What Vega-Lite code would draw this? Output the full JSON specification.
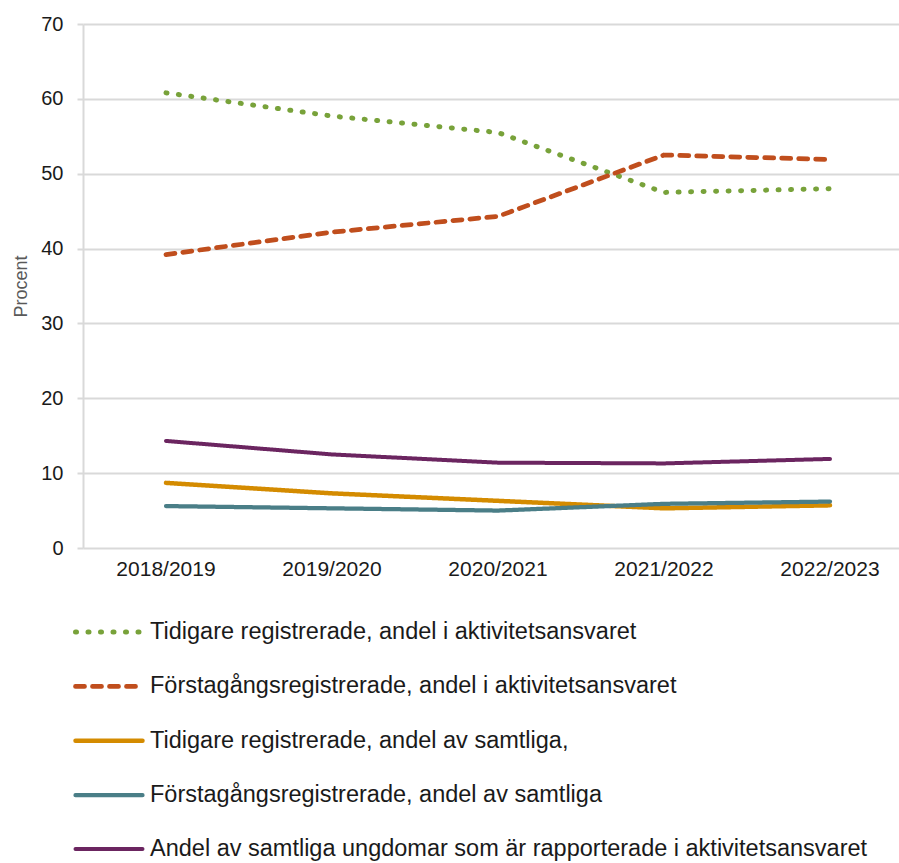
{
  "$schema": "https://vega.github.io/schema/vega-lite/v6.json",
  "autosize": {"type": "none"},
  "width": 830,
  "height": 524,
  "padding": {"left": 83, "top": 24, "right": 0, "bottom": 315},
  "background": "white",
  "config": {
    "font": "Liberation Sans",
    "view": {"stroke": null}
  },
  "data": {
    "values": [
      {"year": "2018/2019", "series": "Tidigare registrerade, andel i aktivitetsansvaret", "value": 60.8},
      {"year": "2019/2020", "series": "Tidigare registrerade, andel i aktivitetsansvaret", "value": 57.7},
      {"year": "2020/2021", "series": "Tidigare registrerade, andel i aktivitetsansvaret", "value": 55.5},
      {"year": "2021/2022", "series": "Tidigare registrerade, andel i aktivitetsansvaret", "value": 47.5},
      {"year": "2022/2023", "series": "Tidigare registrerade, andel i aktivitetsansvaret", "value": 48.0},
      {"year": "2018/2019", "series": "Förstagångsregistrerade, andel i aktivitetsansvaret", "value": 39.2},
      {"year": "2019/2020", "series": "Förstagångsregistrerade, andel i aktivitetsansvaret", "value": 42.2},
      {"year": "2020/2021", "series": "Förstagångsregistrerade, andel i aktivitetsansvaret", "value": 44.3},
      {"year": "2021/2022", "series": "Förstagångsregistrerade, andel i aktivitetsansvaret", "value": 52.5},
      {"year": "2022/2023", "series": "Förstagångsregistrerade, andel i aktivitetsansvaret", "value": 51.9},
      {"year": "2018/2019", "series": "Tidigare registrerade, andel av samtliga,", "value": 8.7},
      {"year": "2019/2020", "series": "Tidigare registrerade, andel av samtliga,", "value": 7.3},
      {"year": "2020/2021", "series": "Tidigare registrerade, andel av samtliga,", "value": 6.3},
      {"year": "2021/2022", "series": "Tidigare registrerade, andel av samtliga,", "value": 5.3},
      {"year": "2022/2023", "series": "Tidigare registrerade, andel av samtliga,", "value": 5.7},
      {"year": "2018/2019", "series": "Förstagångsregistrerade, andel av samtliga", "value": 5.6},
      {"year": "2019/2020", "series": "Förstagångsregistrerade, andel av samtliga", "value": 5.3},
      {"year": "2020/2021", "series": "Förstagångsregistrerade, andel av samtliga", "value": 5.0},
      {"year": "2021/2022", "series": "Förstagångsregistrerade, andel av samtliga", "value": 5.9},
      {"year": "2022/2023", "series": "Förstagångsregistrerade, andel av samtliga", "value": 6.2},
      {"year": "2018/2019", "series": "Andel av samtliga ungdomar som är rapporterade i aktivitetsansvaret", "value": 14.3},
      {"year": "2019/2020", "series": "Andel av samtliga ungdomar som är rapporterade i aktivitetsansvaret", "value": 12.5},
      {"year": "2020/2021", "series": "Andel av samtliga ungdomar som är rapporterade i aktivitetsansvaret", "value": 11.4},
      {"year": "2021/2022", "series": "Andel av samtliga ungdomar som är rapporterade i aktivitetsansvaret", "value": 11.3},
      {"year": "2022/2023", "series": "Andel av samtliga ungdomar som är rapporterade i aktivitetsansvaret", "value": 11.9}
    ]
  },
  "mark": {"type": "line", "interpolate": "linear", "strokeCap": "round", "strokeJoin": "round"},
  "encoding": {
    "x": {
      "field": "year", "type": "ordinal",
      "scale": {"type": "band", "paddingInner": 0, "paddingOuter": 0},
      "axis": {"title": null, "labelAngle": 0, "labelFontSize": 21, "labelColor": "#1a1a1a", "labelPadding": 10, "ticks": false, "domain": false, "grid": false}
    },
    "y": {
      "field": "value", "type": "quantitative",
      "scale": {"domain": [0, 70], "nice": false},
      "axis": {"title": "Procent", "titleFontSize": 18, "titleFontWeight": "normal", "titleColor": "#595959", "titlePadding": 10,
        "values": [0, 10, 20, 30, 40, 50, 60, 70], "labelFontSize": 20, "labelColor": "#1a1a1a", "labelPadding": 14,
        "tickSize": 6, "tickColor": "#d9d9d9", "tickWidth": 2, "domainColor": "#d9d9d9", "domainWidth": 2,
        "gridColor": "#d9d9d9", "gridWidth": 2}
    },
    "color": {
      "field": "series", "type": "nominal",
      "scale": {
        "domain": ["Tidigare registrerade, andel i aktivitetsansvaret", "Förstagångsregistrerade, andel i aktivitetsansvaret", "Tidigare registrerade, andel av samtliga,", "Förstagångsregistrerade, andel av samtliga", "Andel av samtliga ungdomar som är rapporterade i aktivitetsansvaret"],
        "range": ["#78a23a", "#c04e1d", "#d48b00", "#4a7e87", "#6b2560"]
      },
      "legend": {
        "title": null, "orient": "none", "legendX": -10, "legendY": 572, "direction": "vertical",
        "symbolType": "stroke", "symbolSize": 4489, "labelFontSize": 23.5, "labelColor": "#1a1a1a",
        "labelOffset": 5, "labelLimit": 850, "rowPadding": 6.4, "symbolStrokeWidth": 4,
        "encoding": {"symbols": {"strokeCap": {"value": "round"}}}
      }
    },
    "strokeDash": {
      "field": "series", "type": "nominal",
      "scale": {
        "domain": ["Tidigare registrerade, andel i aktivitetsansvaret", "Förstagångsregistrerade, andel i aktivitetsansvaret", "Tidigare registrerade, andel av samtliga,", "Förstagångsregistrerade, andel av samtliga", "Andel av samtliga ungdomar som är rapporterade i aktivitetsansvaret"],
        "range": [[1, 11.5], [9, 8], [1, 0], [1, 0], [1, 0]]
      }
    },
    "strokeWidth": {
      "field": "series", "type": "nominal",
      "scale": {
        "domain": ["Tidigare registrerade, andel i aktivitetsansvaret", "Förstagångsregistrerade, andel i aktivitetsansvaret", "Tidigare registrerade, andel av samtliga,", "Förstagångsregistrerade, andel av samtliga", "Andel av samtliga ungdomar som är rapporterade i aktivitetsansvaret"],
        "range": [5, 4, 5, 5, 3]
      }
    }
  }
}
